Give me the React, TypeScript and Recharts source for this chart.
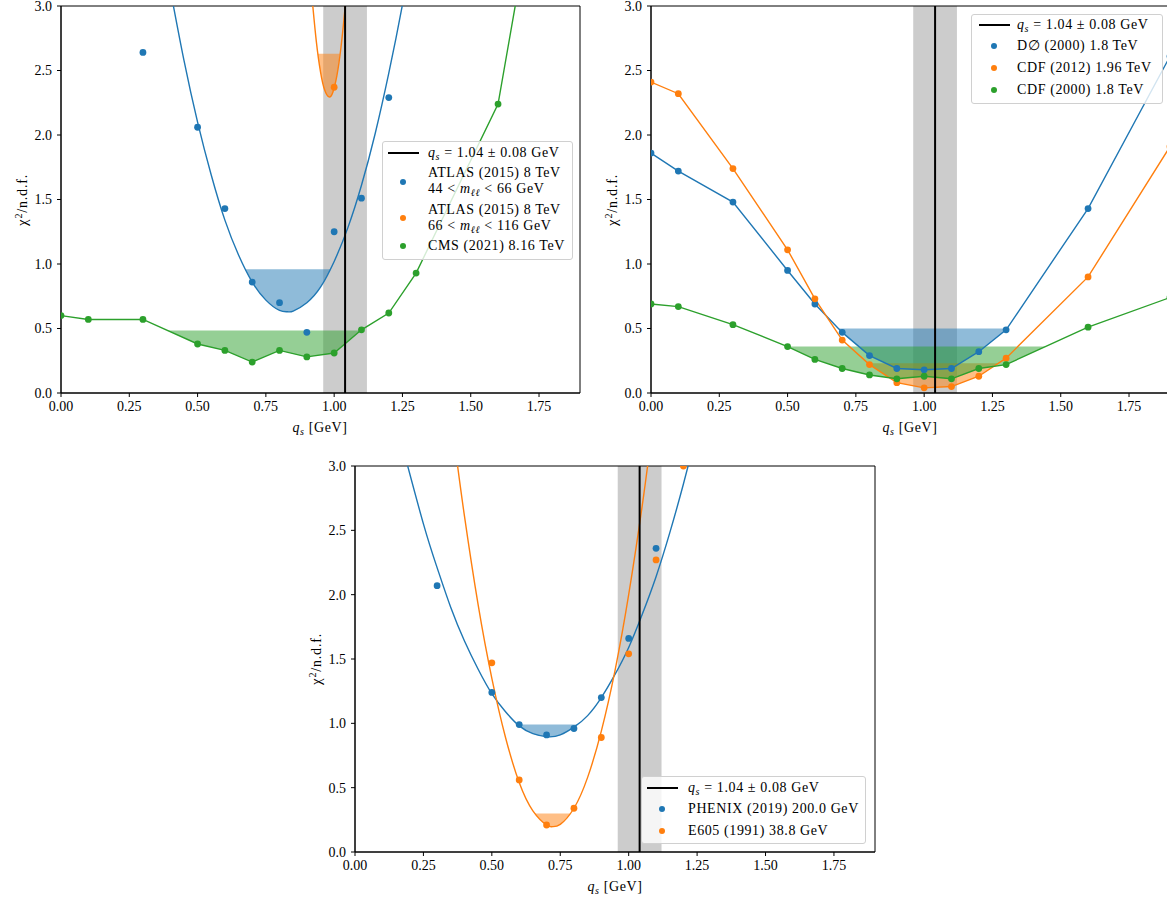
import React from "react";
import {
  ComposedChart,
  Line,
  Area,
  XAxis,
  YAxis,
  ReferenceArea,
  ReferenceLine,
} from "recharts";

const FONT = "'Liberation Serif', 'DejaVu Serif', serif";
const BLUE = "#1f77b4";
const ORANGE = "#ff7f0e";
const GREEN = "#2ca02c";

const xTicks = [0, 0.25, 0.5, 0.75, 1.0, 1.25, 1.5, 1.75];
const yTicks = [0, 0.5, 1.0, 1.5, 2.0, 2.5, 3.0];
const qsCentral = 1.04;
const qsLow = 0.96;
const qsHigh = 1.12;

// top left: ATLAS 2015 (two mass bins) + CMS 2021
const atlasLowX = [0.3, 0.5, 0.6, 0.7, 0.8, 0.9, 1.0, 1.1, 1.2];
const atlasLowY = [2.64, 2.06, 1.43, 0.86, 0.7, 0.47, 1.25, 1.51, 2.29];
const atlasLowFitX = [0.4, 0.45, 0.5, 0.55, 0.6, 0.65, 0.7, 0.75, 0.8, 0.83, 0.85, 0.9, 0.95, 1.0, 1.05, 1.1, 1.15, 1.2, 1.25, 1.3];
const atlasLowFitY = [3.13, 2.58, 2.1, 1.69, 1.34, 1.07, 0.86, 0.72, 0.64, 0.63, 0.635, 0.7, 0.82, 1.02, 1.28, 1.61, 2.01, 2.48, 3.01, 3.61];
const atlasLowBandX = [0.674, 0.7, 0.75, 0.8, 0.83, 0.85, 0.9, 0.95, 0.986];
const atlasLowBandY = [0.96, 0.86, 0.72, 0.64, 0.63, 0.635, 0.7, 0.82, 0.96];
const atlasLowBandTop = 0.96;

const atlasHighX = [1.0];
const atlasHighY = [2.37];
const atlasHighFitX = [0.92, 0.935, 0.95, 0.965, 0.981, 0.995, 1.01, 1.025, 1.04, 1.05];
const atlasHighFitY = [3.04, 2.72, 2.49, 2.35, 2.295, 2.33, 2.46, 2.68, 2.99, 3.25];
const atlasHighBandX = [0.94, 0.95, 0.965, 0.981, 0.995, 1.01, 1.021];
const atlasHighBandY = [2.63, 2.49, 2.35, 2.295, 2.33, 2.46, 2.63];
const atlasHighBandTop = 2.63;

const cmsX = [0, 0.1, 0.3, 0.5, 0.6, 0.7, 0.8, 0.9, 1.0, 1.1, 1.2, 1.3, 1.6, 1.7];
const cmsY = [0.6, 0.57, 0.57, 0.38, 0.33, 0.24, 0.33, 0.28, 0.31, 0.49, 0.62, 0.93, 2.24, 3.45];
const cmsBandX = [0.389, 0.5, 0.6, 0.7, 0.8, 0.9, 1.0, 1.097];
const cmsBandY = [0.485, 0.38, 0.33, 0.24, 0.33, 0.28, 0.31, 0.485];
const cmsBandTop = 0.485;

// top right: Tevatron
const tevX = [0, 0.1, 0.3, 0.5, 0.6, 0.7, 0.8, 0.9, 1.0, 1.1, 1.2, 1.3, 1.6, 1.9];
const d0Y = [1.86, 1.72, 1.48, 0.95, 0.69, 0.47, 0.29, 0.19, 0.18, 0.19, 0.32, 0.49, 1.43, 2.61];
const cdf12Y = [2.41, 2.32, 1.74, 1.11, 0.73, 0.41, 0.22, 0.08, 0.04, 0.05, 0.13, 0.27, 0.9, 1.91];
const cdf00Y = [0.69, 0.67, 0.53, 0.36, 0.26, 0.19, 0.14, 0.11, 0.13, 0.11, 0.19, 0.22, 0.51, 0.74];
const d0BandX = [0.686, 0.7, 0.8, 0.9, 1.0, 1.1, 1.2, 1.3, 1.303];
const d0BandY = [0.5, 0.47, 0.29, 0.19, 0.18, 0.19, 0.32, 0.49, 0.5];
const d0BandTop = 0.5;
const cdf12BandX = [0.795, 0.8, 0.9, 1.0, 1.1, 1.2, 1.271];
const cdf12BandY = [0.23, 0.22, 0.08, 0.04, 0.05, 0.13, 0.23];
const cdf12BandTop = 0.23;
const cdf00BandX = [0.5, 0.6, 0.7, 0.8, 0.9, 1.0, 1.1, 1.2, 1.3, 1.445];
const cdf00BandY = [0.36, 0.26, 0.19, 0.14, 0.11, 0.13, 0.11, 0.19, 0.22, 0.36];
const cdf00BandTop = 0.36;

// bottom: PHENIX + E605
const phenixX = [0.3, 0.5, 0.6, 0.7, 0.8, 0.9, 1.0, 1.1];
const phenixY = [2.07, 1.24, 0.99, 0.91, 0.96, 1.2, 1.66, 2.36];
const phenixFitX = [0.17, 0.25, 0.3, 0.35, 0.4, 0.45, 0.5, 0.55, 0.6, 0.65, 0.705, 0.75, 0.8, 0.85, 0.9, 0.95, 1.0, 1.05, 1.1, 1.15, 1.2, 1.25];
const phenixFitY = [3.18, 2.55, 2.21, 1.9, 1.64, 1.42, 1.23, 1.09, 0.98, 0.92, 0.895, 0.91, 0.97, 1.06, 1.2, 1.38, 1.59, 1.85, 2.14, 2.48, 2.86, 3.27];
const phenixBandX = [0.596, 0.6, 0.65, 0.705, 0.75, 0.8, 0.814];
const phenixBandY = [0.99, 0.98, 0.92, 0.895, 0.91, 0.97, 0.99];
const phenixBandTop = 0.99;

const e605X = [0.5, 0.6, 0.7, 0.8, 0.9, 1.0, 1.1, 1.2];
const e605Y = [1.47, 0.56, 0.21, 0.34, 0.89, 1.54, 2.27, 3.0];
const e605FitX = [0.37, 0.4, 0.45, 0.5, 0.55, 0.6, 0.65, 0.7, 0.722, 0.75, 0.8, 0.85, 0.9, 0.95, 1.0, 1.05, 1.08];
const e605FitY = [3.08, 2.61, 1.92, 1.35, 0.89, 0.54, 0.32, 0.21, 0.197, 0.215, 0.34, 0.58, 0.94, 1.41, 2.0, 2.7, 3.18];
const e605BandX = [0.656, 0.7, 0.722, 0.75, 0.788];
const e605BandY = [0.3, 0.21, 0.197, 0.215, 0.3];
const e605BandTop = 0.3;

const toPoints = (xs: number[], ys: number[]) => xs.map((x, i) => ({ x, y: ys[i] }));
const toBand = (xs: number[], ys: number[], top: number) =>
  xs.map((x, i) => ({ x, y: [ys[i], top] }));

const tickStyle = { fill: "#000", fontSize: 14, fontFamily: FONT };

function dots(key: string, xs: number[], ys: number[], color: string, joined = false) {
  return (
    <Line
      key={key}
      data={toPoints(xs, ys)}
      dataKey="y"
      type="linear"
      stroke={joined ? color : "none"}
      strokeWidth={1.4}
      dot={{ r: 3.4, fill: color, stroke: color, strokeWidth: 0 }}
      activeDot={false}
      isAnimationActive={false}
    />
  );
}

function fit(key: string, xs: number[], ys: number[], color: string) {
  return (
    <Line
      key={key}
      data={toPoints(xs, ys)}
      dataKey="y"
      type="natural"
      stroke={color}
      strokeWidth={1.4}
      dot={false}
      activeDot={false}
      isAnimationActive={false}
    />
  );
}

function band(key: string, xs: number[], ys: number[], top: number, color: string, curved: boolean) {
  return (
    <Area
      key={key}
      data={toBand(xs, ys, top)}
      dataKey="y"
      type={curved ? "natural" : "linear"}
      stroke="none"
      fill={color}
      fillOpacity={0.5}
      activeDot={false}
      isAnimationActive={false}
    />
  );
}

function Panel(props: {
  left: number;
  top: number;
  width: number;
  height: number;
  marginTop: number;
  marginRight: number;
  yAxisWidth: number;
  xAxisHeight: number;
  children: React.ReactNode;
}) {
  const { left, top, width, height, marginTop, marginRight, yAxisWidth, xAxisHeight, children } = props;
  return (
    <div style={{ position: "absolute", left, top }}>
      <ComposedChart
        width={width}
        height={height}
        margin={{ top: marginTop, right: marginRight, bottom: 0, left: 0 }}
      >
        <XAxis
          dataKey="x"
          type="number"
          domain={[0, 1.9]}
          ticks={xTicks}
          interval={0}
          allowDataOverflow
          tickFormatter={(v: number) => v.toFixed(2)}
          height={xAxisHeight}
          tickSize={4}
          tickMargin={4}
          tick={tickStyle}
          stroke="#000"
        />
        <YAxis
          type="number"
          domain={[0, 3]}
          ticks={yTicks}
          interval={0}
          allowDataOverflow
          tickFormatter={(v: number) => v.toFixed(1)}
          width={yAxisWidth}
          tickSize={4}
          tickMargin={5}
          tick={tickStyle}
          stroke="#000"
        />
        <ReferenceArea x1={qsLow} x2={qsHigh} fill="#cccccc" fillOpacity={1} stroke="none" />
        {children}
        <ReferenceLine x={qsCentral} stroke="#000" strokeWidth={2} />
        <ReferenceArea x1={0} x2={1.9} y1={0} y2={3} fill="none" stroke="#000" strokeWidth={1} />
      </ComposedChart>
    </div>
  );
}

const sub: React.CSSProperties = { fontSize: "0.72em", position: "relative", top: "0.3em", fontStyle: "italic" };

const Qs = () => (
  <span>
    <i>q</i>
    <span style={sub}>s</span>
  </span>
);

const Mll = () => (
  <span>
    <i>m</i>
    <span style={sub}>ℓℓ</span>
  </span>
);

const qsText = (
  <span>
    <Qs /> = 1.04 ± 0.08 GeV
  </span>
);

type Row = { kind: "line" | "dot"; color: string; y: number; lines: { y: number; content: React.ReactNode }[] };

function LegendBox(props: {
  left: number;
  top: number;
  width: number;
  height: number;
  markX: number;
  textX: number;
  rows: Row[];
}) {
  const { left, top, width, height, markX, textX, rows } = props;
  return (
    <div
      style={{
        position: "absolute",
        left,
        top,
        width,
        height,
        boxSizing: "border-box",
        border: "1px solid #d0d0d0",
        borderRadius: 3,
        background: "rgba(255,255,255,0.8)",
        fontFamily: FONT,
        fontSize: 14,
        letterSpacing: "0.6px",
        color: "#000",
      }}
    >
      {rows.map((r, i) => (
        <React.Fragment key={i}>
          {r.kind === "line" ? (
            <div
              style={{
                position: "absolute",
                left: markX - 15.5,
                top: r.y - 1,
                width: 31,
                height: 2,
                background: r.color,
              }}
            />
          ) : (
            <div
              style={{
                position: "absolute",
                left: markX - 3.4,
                top: r.y - 3.4,
                width: 6.8,
                height: 6.8,
                borderRadius: "50%",
                background: r.color,
              }}
            />
          )}
          {r.lines.map((l, j) => (
            <div
              key={j}
              style={{
                position: "absolute",
                left: textX,
                top: l.y - 9,
                height: 18,
                lineHeight: "18px",
                whiteSpace: "nowrap",
              }}
            >
              {l.content}
            </div>
          ))}
        </React.Fragment>
      ))}
    </div>
  );
}

function XLabel({ cx, cy }: { cx: number; cy: number }) {
  return (
    <div
      style={{
        position: "absolute",
        left: cx,
        top: cy,
        transform: "translate(-50%, -50%)",
        fontFamily: FONT,
        fontSize: 14,
        letterSpacing: "0.6px",
        whiteSpace: "nowrap",
      }}
    >
      <Qs /> [GeV]
    </div>
  );
}

function YLabel({ cx, cy }: { cx: number; cy: number }) {
  return (
    <div
      style={{
        position: "absolute",
        left: cx,
        top: cy,
        transform: "translate(-50%, -50%) rotate(-90deg)",
        fontFamily: FONT,
        fontSize: 14,
        letterSpacing: "0.8px",
        whiteSpace: "nowrap",
      }}
    >
      <span style={{ fontSize: 15 }}>χ</span>
      <span style={{ fontSize: "0.72em", position: "relative", top: "-0.45em" }}>2</span>/n.d.f.
    </div>
  );
}

export default function App() {
  return (
    <div
      style={{
        position: "absolute",
        left: 0,
        top: 0,
        width: 1167,
        height: 905,
        overflow: "hidden",
        background: "#fff",
      }}
    >
      <Panel left={0} top={0} width={590} height={440} marginTop={6} marginRight={10} yAxisWidth={61} xAxisHeight={47}>
        {band("b1", atlasLowBandX, atlasLowBandY, atlasLowBandTop, BLUE, true)}
        {band("b2", atlasHighBandX, atlasHighBandY, atlasHighBandTop, ORANGE, true)}
        {band("b3", cmsBandX, cmsBandY, cmsBandTop, GREEN, false)}
        {fit("f1", atlasLowFitX, atlasLowFitY, BLUE)}
        {fit("f2", atlasHighFitX, atlasHighFitY, ORANGE)}
        {dots("d1", atlasLowX, atlasLowY, BLUE)}
        {dots("d2", atlasHighX, atlasHighY, ORANGE)}
        {dots("d3", cmsX, cmsY, GREEN, true)}
      </Panel>
      <Panel left={590} top={0} width={590} height={440} marginTop={6} marginRight={10} yAxisWidth={61} xAxisHeight={47}>
        {band("b1", d0BandX, d0BandY, d0BandTop, BLUE, false)}
        {band("b2", cdf12BandX, cdf12BandY, cdf12BandTop, ORANGE, false)}
        {band("b3", cdf00BandX, cdf00BandY, cdf00BandTop, GREEN, false)}
        {dots("d1", tevX, d0Y, BLUE, true)}
        {dots("d2", tevX, cdf12Y, ORANGE, true)}
        {dots("d3", tevX, cdf00Y, GREEN, true)}
      </Panel>
      <Panel left={290} top={450} width={600} height={455} marginTop={16} marginRight={15} yAxisWidth={65} xAxisHeight={53}>
        {band("b1", phenixBandX, phenixBandY, phenixBandTop, BLUE, true)}
        {band("b2", e605BandX, e605BandY, e605BandTop, ORANGE, true)}
        {fit("f1", phenixFitX, phenixFitY, BLUE)}
        {fit("f2", e605FitX, e605FitY, ORANGE)}
        {dots("d1", phenixX, phenixY, BLUE)}
        {dots("d2", e605X, e605Y, ORANGE)}
      </Panel>

      <XLabel cx={320} cy={428} />
      <YLabel cx={22} cy={200} />
      <XLabel cx={910} cy={428} />
      <YLabel cx={612} cy={200} />
      <XLabel cx={615} cy={887} />
      <YLabel cx={316} cy={659} />

      <LegendBox
        left={382}
        top={141}
        width={191}
        height={119}
        markX={20}
        textX={45}
        rows={[
          { kind: "line", color: "#000", y: 11, lines: [{ y: 11, content: qsText }] },
          {
            kind: "dot",
            color: BLUE,
            y: 40,
            lines: [
              { y: 31, content: "ATLAS (2015) 8 TeV" },
              { y: 47, content: <span>44 &lt; <Mll /> &lt; 66 GeV</span> },
            ],
          },
          {
            kind: "dot",
            color: ORANGE,
            y: 76,
            lines: [
              { y: 68, content: "ATLAS (2015) 8 TeV" },
              { y: 84, content: <span>66 &lt; <Mll /> &lt; 116 GeV</span> },
            ],
          },
          { kind: "dot", color: GREEN, y: 104, lines: [{ y: 104, content: "CMS (2021) 8.16 TeV" }] },
        ]}
      />
      <LegendBox
        left={971}
        top={14}
        width={192}
        height={90}
        markX={22}
        textX={45}
        rows={[
          { kind: "line", color: "#000", y: 10, lines: [{ y: 10, content: qsText }] },
          { kind: "dot", color: BLUE, y: 31, lines: [{ y: 31, content: "D∅ (2000) 1.8 TeV" }] },
          { kind: "dot", color: ORANGE, y: 53, lines: [{ y: 53, content: "CDF (2012) 1.96 TeV" }] },
          { kind: "dot", color: GREEN, y: 75, lines: [{ y: 75, content: "CDF (2000) 1.8 TeV" }] },
        ]}
      />
      <LegendBox
        left={641}
        top={776}
        width={225}
        height={68}
        markX={20}
        textX={46}
        rows={[
          { kind: "line", color: "#000", y: 11, lines: [{ y: 11, content: qsText }] },
          { kind: "dot", color: BLUE, y: 32, lines: [{ y: 32, content: "PHENIX (2019) 200.0 GeV" }] },
          { kind: "dot", color: ORANGE, y: 54, lines: [{ y: 54, content: "E605 (1991) 38.8 GeV" }] },
        ]}
      />
    </div>
  );
}
